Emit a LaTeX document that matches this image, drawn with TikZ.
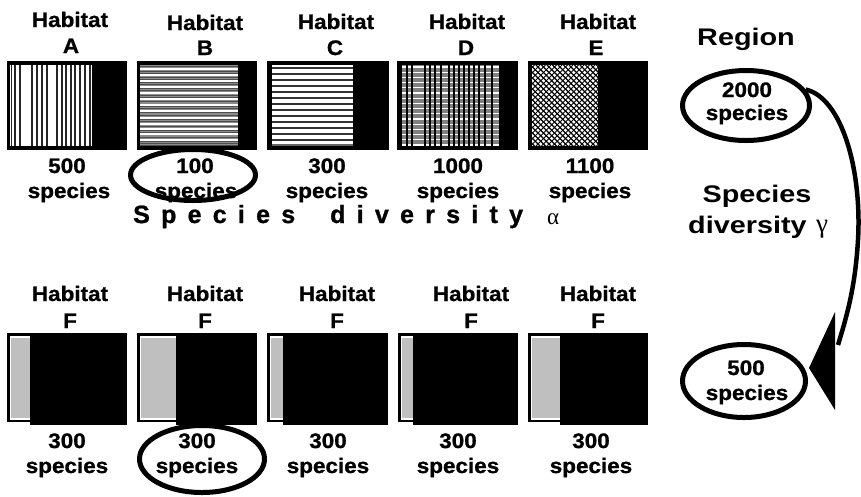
\documentclass[tikz,border=0pt]{standalone}
\usepackage{fontspec}
\setmainfont{Liberation Sans}[FakeStretch=1.07,BoldFeatures={FakeBold=1}]
\newfontfamily\widefont{Liberation Sans}[FakeStretch=1.2]
\newfontfamily\spacedfont{Liberation Sans}[LetterSpace=45,BoldFeatures={FakeBold=1}]
\newfontfamily\greekfont{Liberation Serif}
\usetikzlibrary{shapes.geometric}
\begin{document}
\begin{tikzpicture}[x=1pt,y=-1pt,
  lbl/.style={font=\fontsize{21}{24}\selectfont\bfseries, inner sep=0, anchor=base},
  big/.style={font=\widefont\fontsize{24}{28}\selectfont\bfseries, inner sep=0, anchor=base},
  ring/.style={draw, ellipse, line width=5pt, inner sep=0},
  frame/.style={fill=black},
  grayband/.style={fill=black!25}]
\useasboundingbox (0,0) rectangle (861,496);
\fill[white] (0,0) rectangle (861,496);

% ---------- top row boxes ----------
% A
\fill[frame] (7,61) rectangle (127,150);
\fill[white] (10,65) rectangle (92,146);
\foreach \x in {11.7,15,20,32,37,42,47,57,62,66,71,75,80,85,90}
  \draw[line width=1.5pt, black!85] (\x,65) -- (\x,146);
% B
\fill[frame] (137,61) rectangle (257,150);
\fill[black!45] (140,65) rectangle (238,146);
\foreach \y in {66.5,68.7,...,146}
  \draw[black!70, line width=0.6pt] (140,\y) -- (238,\y);
\foreach \y in {69,75,81,87,93,99,105,111,118,124,129,134,140}
  \draw[white, line width=1.2pt] (140,\y) -- (238,\y);
% C
\fill[frame] (267,61) rectangle (389,150);
\fill[white] (272,65) rectangle (353,146);
\foreach \y in {68,74,...,140}
  \draw[black!80, line width=1.8pt] (272,\y) -- (353,\y);
\fill[black!60] (272,143.5) rectangle (353,146);
% D
\fill[frame] (397,61) rectangle (518,150);
\fill[black!50] (402,65) rectangle (499,146);
\foreach \y in {67,72.2,...,146}
  \draw[white, line width=1.2pt] (402,\y) -- (499,\y);
\foreach \x in {407,412,425,430,435,441,449,454,459,464,469,474,479,485,492}
  \draw[black, line width=1.6pt] (\x,65) -- (\x,146);
% E
\fill[frame] (528,61) rectangle (648,150);
\fill[white] (532,65) rectangle (598,146);
\begin{scope}
  \clip (532,65) rectangle (598,146);
  \foreach \k in {-84,-78.5,...,70}
    \draw[line width=1.4pt] (532+\k,65) -- ++(81,81);
  \foreach \k in {-84,-78.5,...,70}
    \draw[line width=0.8pt] (532+\k,146) -- ++(81,-81);
\end{scope}

% ---------- bottom row boxes ----------
\foreach \a/\b/\g in {7/127/30, 137/257/176, 267/388/283, 398/518/413, 528/648/560}{
  \draw[line width=2.5pt, fill=white] (\a+1.25,334.5) rectangle (\b-1.25,421);
  \fill[grayband] (\a+3.5,338) rectangle (\g,418);
  \fill[black] (\g,333) rectangle (\b,425);
}

% ---------- top labels ----------
\node[lbl] (hA1) at (70,27) {Habitat};
\node[lbl] (hA2) at (71,53) {A};
\node[lbl] (hB1) at (205,30) {Habitat};
\node[lbl] (hB2) at (205,55) {B};
\node[lbl] (hC1) at (336,29) {Habitat};
\node[lbl] (hC2) at (335,55) {C};
\node[lbl] (hD1) at (467,29) {Habitat};
\node[lbl] (hD2) at (466,55) {D};
\node[lbl] (hE1) at (598,29) {Habitat};
\node[lbl] (hE2) at (596,55) {E};

\node[lbl] (nA1) at (67,173) {500};
\node[lbl] (nA2) at (69,198) {species};
\node[lbl] (nB1) at (195,173) {100};
\node[lbl] (nB2) at (196,198) {species};
\node[lbl] (nC1) at (327,173) {300};
\node[lbl] (nC2) at (327,198) {species};
\node[lbl] (nD1) at (458,173) {1000};
\node[lbl] (nD2) at (458,198) {species};
\node[lbl] (nE1) at (590,173) {1100};
\node[lbl] (nE2) at (590,198) {species};

% ---------- alpha line ----------
\node[font=\spacedfont\fontsize{25}{28}\selectfont\bfseries, inner sep=0, anchor=base west] (sp1) at (133,223) {Species};
\node[font=\spacedfont\fontsize{25}{28}\selectfont\bfseries, inner sep=0, anchor=base west] (sp2) at (330,223) {diversity};
\node[font=\greekfont\fontsize{23}{26}\selectfont, inner sep=0, anchor=base west] (alpha) at (547,224) {α};

% ---------- bottom labels ----------
\foreach \x/\n in {70/1, 205/2, 337/3, 471/4, 598/5}{
  \node[lbl] (hF\n a) at (\x,301) {Habitat};
  \node[lbl] (hF\n b) at (\x,328) {F};
}
\foreach \x/\n in {67/1, 197/2, 328/3, 458/4, 591/5}{
  \node[lbl] (nF\n a) at (\x,448) {300};
  \node[lbl] (nF\n b) at (\x,473) {species};
}

% ---------- right side ----------
\node[big] (region) at (746,45) {Region};
\node[lbl] (r1a) at (747,97) {2000};
\node[lbl] (r1b) at (747,120) {species};
\node[lbl] (r2a) at (746,375) {500};
\node[lbl] (r2b) at (747,400) {species};
\node[big] (gam1) at (757,202) {Species};
\node[big, anchor=base west] (gam2) at (688,233) {diversity};
\node[font=\greekfont\fontsize{27}{30}\selectfont, inner sep=0, anchor=base west] (gam3) at (816,232) {γ};

% ---------- ellipses ----------
\node[ring, minimum width=125pt, minimum height=51pt] (eB) at (193,175) {};
\node[ring, minimum width=125pt, minimum height=67pt] (eF) at (202,459) {};
\node[ring, minimum width=127pt, minimum height=70pt] (e2000) at (746,105.5) {};
\node[ring, minimum width=123pt, minimum height=73pt] (e500) at (744,381) {};

% ---------- arrow ----------
\coordinate (aj) at (838,345);
\coordinate (aT) at (835,312);
\coordinate (aB) at (835,410);
\coordinate (aL) at (809,368);
\draw[line width=4.5pt] (e2000.15) .. controls (842,98) and (862,170) .. (858,240)
  .. controls (855,290) and (846,318) .. (aj);
\fill (aT) -- (aB) -- (aL) -- cycle;
\end{tikzpicture}
\end{document}
